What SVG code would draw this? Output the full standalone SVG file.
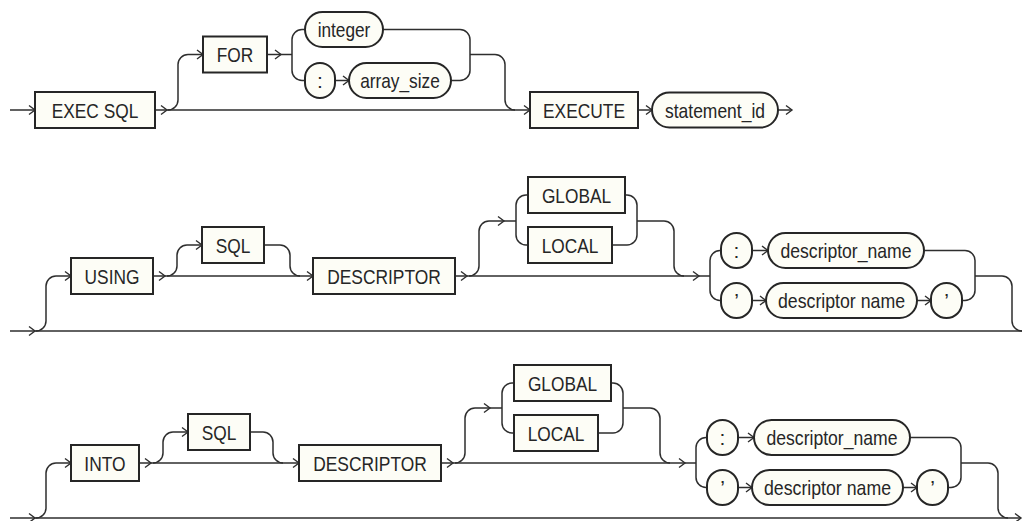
<svg xmlns="http://www.w3.org/2000/svg" xmlns:xlink="http://www.w3.org/1999/xlink" width="1024" height="521" viewBox="0 0 1024 521">
<style>
.b{fill:#fdfdf6;stroke:#262626;stroke-width:2}
.t{font-family:"Liberation Sans",Arial,sans-serif;font-size:21px;fill:#262626;text-anchor:middle}
.c path{fill:none;stroke:#2e2e2e;stroke-width:1.5}
</style>
<defs>
<path id="ah" d="M-6,-4.5 L0,0 L-6,4.5" fill="none" stroke="#2e2e2e" stroke-width="1.4"/>
</defs>
<rect width="1024" height="521" fill="#ffffff"/>
<g id="connectors" class="c">
<path d="M10,110 H35"/>
<path d="M155,110 H530"/>
<path d="M168,110 A10,10 0 0 0 178,100 V64.5 A10,10 0 0 1 188,54.5 H203"/>
<path d="M267,54.5 H292"/>
<path d="M305,29.5 H302 A10,10 0 0 0 292,39.5 V70.5 A10,10 0 0 0 302,80.5 H305"/>
<path d="M335,80.5 H349"/>
<path d="M383,29.5 H460 A10,10 0 0 1 470,39.5 V70.5 A10,10 0 0 1 460,80.5 H451"/>
<path d="M470,54.5 H495 A10,10 0 0 1 505,64.5 V100 A10,10 0 0 0 515,110"/>
<path d="M638,110 H652"/>
<path d="M778,110 H792"/>
<use href="#ah" xlink:href="#ah" x="35" y="110"/>
<use href="#ah" xlink:href="#ah" x="167" y="110"/>
<use href="#ah" xlink:href="#ah" x="203" y="54.5"/>
<use href="#ah" xlink:href="#ah" x="281" y="54.5"/>
<use href="#ah" xlink:href="#ah" x="349" y="80.5"/>
<use href="#ah" xlink:href="#ah" x="530" y="110"/>
<use href="#ah" xlink:href="#ah" x="652" y="110"/>
<use href="#ah" xlink:href="#ah" x="792" y="110"/>
<path d="M10,331 H1022"/>
<path d="M36,331 A10,10 0 0 0 46,321 V286 A10,10 0 0 1 56,276 H71"/>
<path d="M153,276 H313"/>
<path d="M167,276 A10,10 0 0 0 177,266 V255 A10,10 0 0 1 187,245 H202"/>
<path d="M264,245 H280 A10,10 0 0 1 290,255 V266 A10,10 0 0 0 300,276"/>
<path d="M455,276 H710"/>
<path d="M469,276 A10,10 0 0 0 479,266 V231 A10,10 0 0 1 489,221 H516"/>
<path d="M528,195 H526 A10,10 0 0 0 516,205 V235 A10,10 0 0 0 526,245 H528"/>
<path d="M625,195 H627 A10,10 0 0 1 637,205 V235 A10,10 0 0 1 627,245 H612"/>
<path d="M637,221 H664 A10,10 0 0 1 674,231 V266 A10,10 0 0 0 684,276"/>
<path d="M721,250.5 H720 A10,10 0 0 0 710,260.5 V290.5 A10,10 0 0 0 720,300.5 H721"/>
<path d="M752,250.5 H768"/>
<path d="M752,300.5 H766"/>
<path d="M917,300.5 H931"/>
<path d="M924,250.5 H965 A10,10 0 0 1 975,260.5 V290.5 A10,10 0 0 1 965,300.5 H962"/>
<path d="M975,276 H1002 A10,10 0 0 1 1012,286 V321 A10,10 0 0 0 1022,331"/>
<use href="#ah" xlink:href="#ah" x="35" y="331"/>
<use href="#ah" xlink:href="#ah" x="71" y="276"/>
<use href="#ah" xlink:href="#ah" x="165" y="276"/>
<use href="#ah" xlink:href="#ah" x="202" y="245"/>
<use href="#ah" xlink:href="#ah" x="313" y="276"/>
<use href="#ah" xlink:href="#ah" x="467" y="276"/>
<use href="#ah" xlink:href="#ah" x="504" y="221"/>
<use href="#ah" xlink:href="#ah" x="699" y="276"/>
<use href="#ah" xlink:href="#ah" x="768" y="250.5"/>
<use href="#ah" xlink:href="#ah" x="766" y="300.5"/>
<use href="#ah" xlink:href="#ah" x="931" y="300.5"/>
<path d="M10,518 H1021"/>
<path d="M36,518 A10,10 0 0 0 46,508 V473 A10,10 0 0 1 56,463 H71"/>
<path d="M139,463 H696"/>
<path d="M153,463 A10,10 0 0 0 163,453 V442 A10,10 0 0 1 173,432 H188"/>
<path d="M250,432 H263 A10,10 0 0 1 273,442 V453 A10,10 0 0 0 283,463"/>
<path d="M455,463 A10,10 0 0 0 465,453 V418 A10,10 0 0 1 475,408 H502"/>
<path d="M514,383 H512 A10,10 0 0 0 502,393 V423 A10,10 0 0 0 512,433 H514"/>
<path d="M611,383 H613 A10,10 0 0 1 623,393 V423 A10,10 0 0 1 613,433 H598"/>
<path d="M623,408 H650 A10,10 0 0 1 660,418 V453 A10,10 0 0 0 670,463"/>
<path d="M707,437.5 H706 A10,10 0 0 0 696,447.5 V477.5 A10,10 0 0 0 706,487.5 H707"/>
<path d="M738,437.5 H754"/>
<path d="M738,487.5 H752"/>
<path d="M903,487.5 H917"/>
<path d="M910,437.5 H951 A10,10 0 0 1 961,447.5 V477.5 A10,10 0 0 1 951,487.5 H948"/>
<path d="M961,463 H988 A10,10 0 0 1 998,473 V508 A10,10 0 0 0 1008,518"/>
<use href="#ah" xlink:href="#ah" x="35" y="518"/>
<use href="#ah" xlink:href="#ah" x="71" y="463"/>
<use href="#ah" xlink:href="#ah" x="151" y="463"/>
<use href="#ah" xlink:href="#ah" x="188" y="432"/>
<use href="#ah" xlink:href="#ah" x="299" y="463"/>
<use href="#ah" xlink:href="#ah" x="453" y="463"/>
<use href="#ah" xlink:href="#ah" x="490" y="408"/>
<use href="#ah" xlink:href="#ah" x="685" y="463"/>
<use href="#ah" xlink:href="#ah" x="754" y="437.5"/>
<use href="#ah" xlink:href="#ah" x="752" y="487.5"/>
<use href="#ah" xlink:href="#ah" x="917" y="487.5"/>
<use href="#ah" xlink:href="#ah" x="1021" y="518"/>
</g>
<g id="n_exec_sql"><rect class="b" x="35" y="92" width="120" height="36"/><text class="t" x="95" y="117.5" textLength="86.5" lengthAdjust="spacingAndGlyphs">EXEC SQL</text></g>
<g id="n_for"><rect class="b" x="203" y="36.5" width="64" height="36"/><text class="t" x="235" y="62" textLength="36.5" lengthAdjust="spacingAndGlyphs">FOR</text></g>
<g id="n_integer"><rect class="b" x="305" y="12" width="78" height="35" rx="17.5"/><text class="t" x="344" y="37" textLength="52.7" lengthAdjust="spacingAndGlyphs">integer</text></g>
<g id="n_colon1"><rect class="b" x="305" y="63" width="30" height="35" rx="15"/><text class="t" x="320" y="88">:</text></g>
<g id="n_array_size"><rect class="b" x="349" y="63" width="102" height="35" rx="17.5"/><text class="t" x="400" y="88" textLength="79.7" lengthAdjust="spacingAndGlyphs">array_size</text></g>
<g id="n_execute"><rect class="b" x="530" y="92" width="108" height="36"/><text class="t" x="584" y="117.5" textLength="81.9" lengthAdjust="spacingAndGlyphs">EXECUTE</text></g>
<g id="n_statement_id"><rect class="b" x="652" y="92.5" width="126" height="35" rx="17.5"/><text class="t" x="715" y="117.5" textLength="100" lengthAdjust="spacingAndGlyphs">statement_id</text></g>
<g id="n_using"><rect class="b" x="71" y="258" width="82" height="36"/><text class="t" x="112" y="283.5" textLength="54.8" lengthAdjust="spacingAndGlyphs">USING</text></g>
<g id="n_sql2"><rect class="b" x="202" y="227" width="62" height="36"/><text class="t" x="233" y="252.5" textLength="34.6" lengthAdjust="spacingAndGlyphs">SQL</text></g>
<g id="n_descriptor2"><rect class="b" x="313" y="258" width="142" height="36"/><text class="t" x="384" y="283.5" textLength="113.7" lengthAdjust="spacingAndGlyphs">DESCRIPTOR</text></g>
<g id="n_global2"><rect class="b" x="528" y="177" width="97" height="36"/><text class="t" x="576.5" y="202.5" textLength="69.1" lengthAdjust="spacingAndGlyphs">GLOBAL</text></g>
<g id="n_local2"><rect class="b" x="528" y="227" width="84" height="36"/><text class="t" x="570" y="252.5" textLength="56.7" lengthAdjust="spacingAndGlyphs">LOCAL</text></g>
<g id="n_colon2"><rect class="b" x="721" y="233" width="31" height="35" rx="15.5"/><text class="t" x="736.5" y="258">:</text></g>
<g id="n_descriptor_name2"><rect class="b" x="768" y="233" width="156" height="35" rx="17.5"/><text class="t" x="846" y="258" textLength="131" lengthAdjust="spacingAndGlyphs">descriptor_name</text></g>
<g id="n_quote2a"><rect class="b" x="721" y="283" width="31" height="35" rx="15.5"/><text class="t" x="736.5" y="308">’</text></g>
<g id="n_descriptor_name2b"><rect class="b" x="766" y="283" width="151" height="35" rx="17.5"/><text class="t" x="841.5" y="308" textLength="127" lengthAdjust="spacingAndGlyphs">descriptor name</text></g>
<g id="n_quote2b"><rect class="b" x="931" y="283" width="31" height="35" rx="15.5"/><text class="t" x="946.5" y="308">’</text></g>
<g id="n_into"><rect class="b" x="71" y="445" width="68" height="36"/><text class="t" x="105" y="470.5" textLength="41.3" lengthAdjust="spacingAndGlyphs">INTO</text></g>
<g id="n_sql3"><rect class="b" x="188" y="414" width="62" height="36"/><text class="t" x="219" y="439.5" textLength="34.6" lengthAdjust="spacingAndGlyphs">SQL</text></g>
<g id="n_descriptor3"><rect class="b" x="299" y="445" width="142" height="36"/><text class="t" x="370" y="470.5" textLength="113.7" lengthAdjust="spacingAndGlyphs">DESCRIPTOR</text></g>
<g id="n_global3"><rect class="b" x="514" y="365" width="97" height="36"/><text class="t" x="562.5" y="390.5" textLength="69.1" lengthAdjust="spacingAndGlyphs">GLOBAL</text></g>
<g id="n_local3"><rect class="b" x="514" y="415" width="84" height="36"/><text class="t" x="556" y="440.5" textLength="56.7" lengthAdjust="spacingAndGlyphs">LOCAL</text></g>
<g id="n_colon3"><rect class="b" x="707" y="420" width="31" height="35" rx="15.5"/><text class="t" x="722.5" y="445">:</text></g>
<g id="n_descriptor_name3"><rect class="b" x="754" y="420" width="156" height="35" rx="17.5"/><text class="t" x="832" y="445" textLength="131" lengthAdjust="spacingAndGlyphs">descriptor_name</text></g>
<g id="n_quote3a"><rect class="b" x="707" y="470" width="31" height="35" rx="15.5"/><text class="t" x="722.5" y="495">’</text></g>
<g id="n_descriptor_name3b"><rect class="b" x="752" y="470" width="151" height="35" rx="17.5"/><text class="t" x="827.5" y="495" textLength="127" lengthAdjust="spacingAndGlyphs">descriptor name</text></g>
<g id="n_quote3b"><rect class="b" x="917" y="470" width="31" height="35" rx="15.5"/><text class="t" x="932.5" y="495">’</text></g>
</svg>
